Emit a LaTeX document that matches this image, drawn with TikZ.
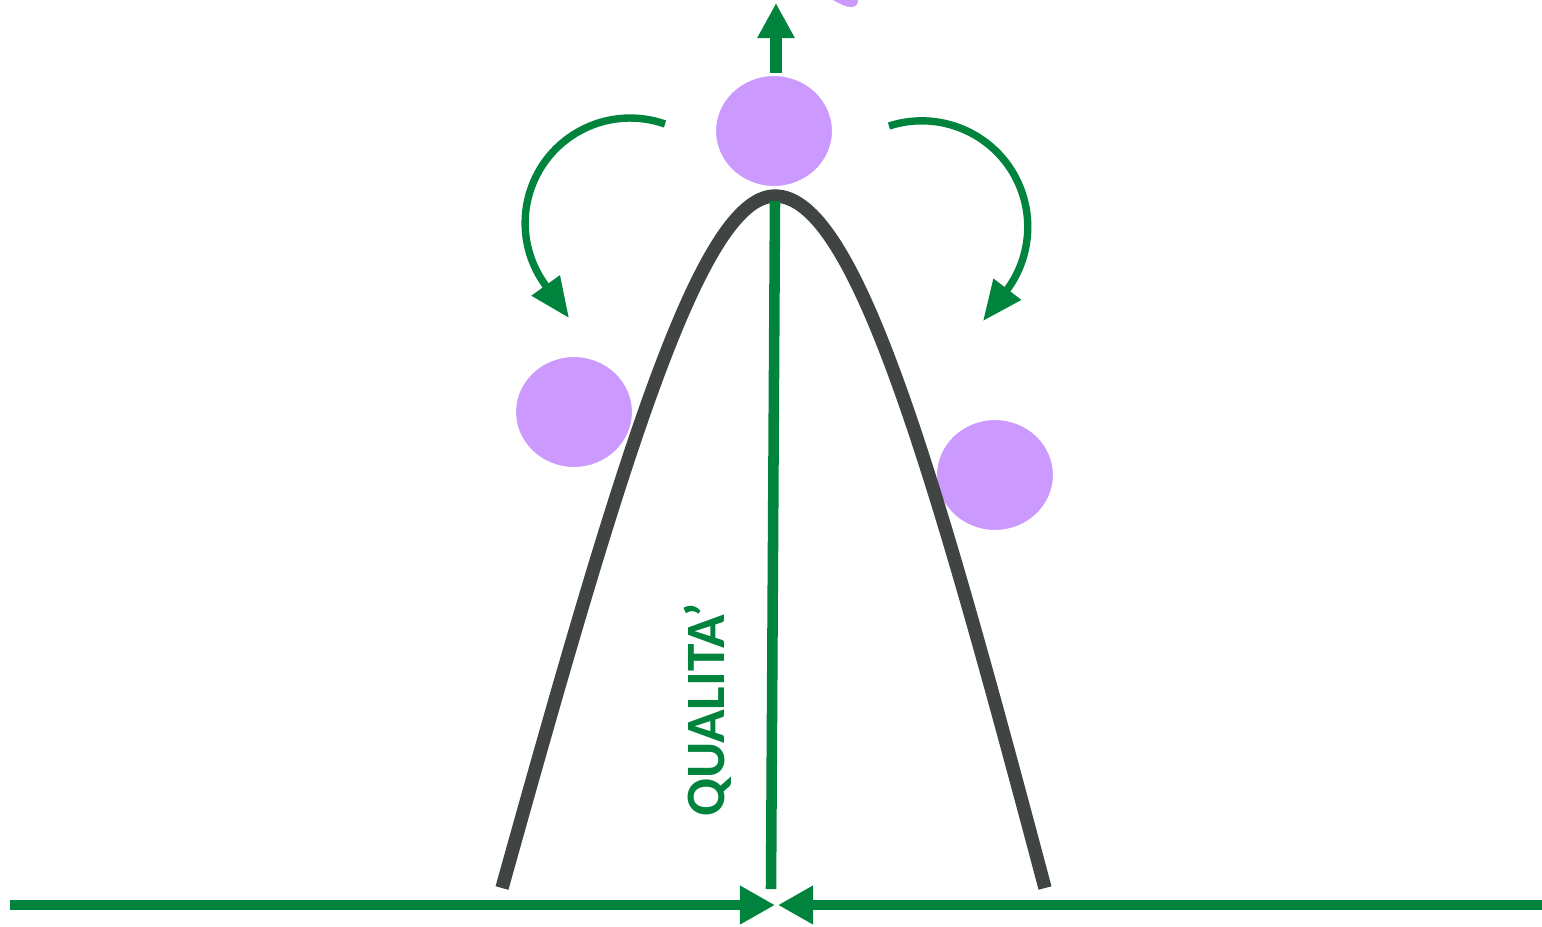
\documentclass[tikz,border=0pt]{standalone}
\usepackage{fontspec}
\setmainfont{Carlito}
\usetikzlibrary{arrows.meta,shapes.geometric}
\definecolor{qgreen}{RGB}{0,132,61}
\definecolor{qpurple}{RGB}{204,153,255}
\definecolor{qgray}{RGB}{64,69,68}
\begin{document}
\begin{tikzpicture}[x=0.01cm,y=-0.01cm,
  ball/.style={ellipse, fill=qpurple, draw=white, line width=0.6pt,
    minimum width=1.18cm, minimum height=1.12cm, inner sep=0pt},
  arcarrow/.style={qgreen, line width=2.1pt, -{Triangle[length=11.4pt,width=9.4pt]}},
  baseline/.style={qgreen, line width=2.9pt, -{Triangle[length=10pt,width=10.4pt]}},
  bell/.style={qgray, line width=3.8pt},
  label/.style={rotate=90, text=qgreen, font=\bfseries\fontsize{15.8}{18}\selectfont}]
\useasboundingbox (0,0) rectangle (1542,926);
% side balls
\node[ball] (bl) at (574,412) {};
\node[ball] (br) at (995,475) {};
% bell curve
\coordinate (cl) at (502,888);
\coordinate (ctop) at (775,196);
\coordinate (cr) at (1045,888);
\draw[bell] (cl) .. controls (620,465) and (700,196) .. (ctop)
  .. controls (855,196) and (932,462) .. (cr);
% vertical line
\coordinate (vt) at (775,201);
\coordinate (vb) at (771,889);
\draw[qgreen, line width=3pt] (vt) -- (vb);
% top ball
\node[ball] (bt) at (774,131) {};
% top arrow
\coordinate (us) at (776,73);
\coordinate (ut) at (776,3);
\draw[qgreen, line width=3.4pt, -{Triangle[length=10pt,width=10pt]}] (us) -- (ut);
% curved arrows
\coordinate (las) at (665,124);
\coordinate (lat) at (569,318);
\draw[arcarrow] (las) arc[start angle=-70.6, end angle=-216, radius=105] -- (lat);
\coordinate (ras) at (889,126);
\coordinate (rat) at (983,321);
\draw[arcarrow] (ras) arc[start angle=-108, end angle=35, radius=106] -- (rat);
% baseline arrows
\coordinate (b0) at (10,905);
\coordinate (b1) at (775,905);
\coordinate (b2) at (1542,905);
\coordinate (b3) at (778,905);
\draw[baseline] (b0) -- (b1);
\draw[baseline] (b2) -- (b3);
% label
\node[label] (q) at (708,710) {QUALITA’};
% partial shape at the top
\fill[qpurple] (833,0) .. controls (840,4) and (846,7) .. (851,7)
  .. controls (856,7) and (858,4) .. (858,0) -- cycle;
\end{tikzpicture}
\end{document}
